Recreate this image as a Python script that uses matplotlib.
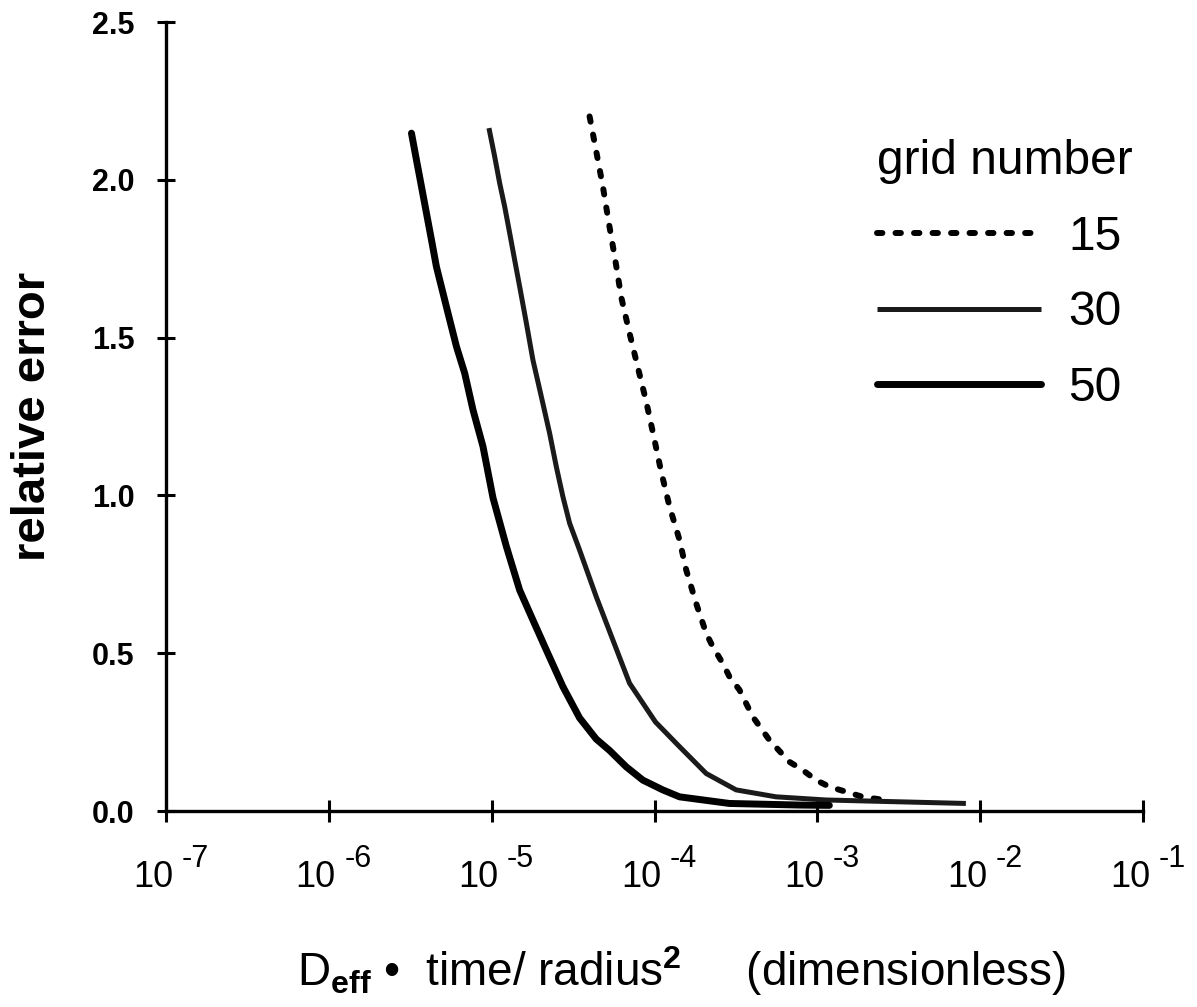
import numpy as np
import matplotlib
matplotlib.use("Agg")
import matplotlib.pyplot as plt

plt.rcParams["font.family"] = ["Liberation Sans", "DejaVu Sans"]
plt.rcParams["mathtext.fontset"] = "custom"
plt.rcParams["mathtext.rm"] = "Liberation Sans"
plt.rcParams["mathtext.bf"] = "Liberation Sans:bold"

# values (x = D_eff*t/r^2, y = relative error)
x_50 = [3.216e-6, 3.451e-6, 3.704e-6, 3.977e-6, 4.267e-6, 4.576e-6, 5.024e-6,
        5.525e-6, 6.074e-6, 6.830e-6, 7.678e-6, 8.843e-6, 1.019e-5, 1.231e-5,
        1.485e-5, 1.792e-5, 2.166e-5, 2.738e-5, 3.466e-5, 4.387e-5, 5.295e-5,
        6.705e-5, 8.477e-5, 1.124e-4, 1.424e-4, 2.884e-4, 7.755e-4, 1.185e-3]
y_50 = [2.148, 2.063, 1.979, 1.894, 1.810, 1.725, 1.641,
        1.556, 1.472, 1.387, 1.271, 1.155, 0.992, 0.838,
        0.700, 0.605, 0.510, 0.394, 0.295, 0.228, 0.192,
        0.140, 0.098, 0.067, 0.045, 0.024, 0.019, 0.018]

x_30 = [9.62e-6, 1.043e-5, 1.119e-5, 1.202e-5, 1.290e-5, 1.384e-5, 1.485e-5,
        1.633e-5, 1.792e-5, 2.018e-5, 2.269e-5, 2.494e-5, 2.738e-5, 3.010e-5,
        3.466e-5, 4.387e-5, 5.549e-5, 7.024e-5, 1.014e-4, 1.424e-4, 2.076e-4,
        3.171e-4, 5.58e-4, 1.131e-3, 8.17e-3]
y_30 = [2.164, 2.074, 1.990, 1.915, 1.831, 1.746, 1.662,
        1.546, 1.429, 1.313, 1.197, 1.091, 0.996, 0.912,
        0.827, 0.679, 0.542, 0.405, 0.282, 0.204, 0.119,
        0.067, 0.045, 0.035, 0.024]

x_15 = [3.992e-5, 4.387e-5, 4.817e-5, 5.243e-5, 5.741e-5, 6.248e-5, 7.024e-5,
        7.898e-5, 8.894e-5, 9.901e-5, 1.099e-4, 1.236e-4, 1.424e-4, 1.565e-4,
        1.802e-4, 2.076e-4, 2.279e-4, 2.624e-4, 2.884e-4, 3.322e-4, 4.009e-4,
        5.075e-4, 6.732e-4, 8.124e-4, 9.817e-4, 1.185e-3, 1.500e-3, 1.896e-3,
        2.576e-3]
y_15 = [2.201, 2.090, 1.979, 1.863, 1.746, 1.628, 1.514,
        1.406, 1.297, 1.186, 1.075, 0.965, 0.859, 0.764,
        0.658, 0.563, 0.521, 0.468, 0.426, 0.384, 0.299,
        0.225, 0.156, 0.130, 0.098, 0.077, 0.061, 0.045,
        0.035]

x_exps = [-7, -6, -5, -4, -3, -2, -1]
y_ticks = [0.0, 0.5, 1.0, 1.5, 2.0, 2.5]
grid_labels = ["15", "30", "50"]

fig = plt.figure(figsize=(11.97, 10.07), dpi=100)
ax = fig.add_axes([0.1387, 0.1946, 0.8162, 0.7835])

ax.plot(x_15, y_15, color="black", lw=4.3, linestyle=(0, (0.9, 2.2)),
        dash_capstyle="round", label=grid_labels[0])
ax.plot(x_30, y_30, color="#1a1a1a", lw=3.6, solid_capstyle="butt",
        label=grid_labels[1])
ax.plot(x_50, y_50, color="black", lw=5.0, solid_capstyle="round",
        label=grid_labels[2])

ax.set_xscale("log")
ax.set_xlim(10.0 ** x_exps[0], 10.0 ** x_exps[-1])
ax.set_ylim(y_ticks[0], y_ticks[-1])

for side in ["top", "right"]:
    ax.spines[side].set_visible(False)
for side in ["left", "bottom"]:
    ax.spines[side].set_linewidth(2.4)

ax.set_xticks([10.0 ** e for e in x_exps])
ax.set_xticklabels([])
ax.xaxis.set_minor_locator(matplotlib.ticker.NullLocator())
ax.tick_params(axis="x", direction="inout", length=16.5, width=2.2)

ax.set_yticks(y_ticks)
ax.set_yticklabels(["%.1f" % v for v in y_ticks], fontweight="bold")
ax.tick_params(axis="y", direction="inout", length=13, width=2.2,
               labelsize=22, pad=16)

# "10" with a raised exponent, like the original typesetting
xtrans = ax.get_xaxis_transform()
for e in x_exps:
    ax.annotate("10", xy=(10.0 ** e, 0), xycoords=xtrans,
                xytext=(5, -55), textcoords="offset points",
                ha="right", va="baseline", fontsize=26, annotation_clip=False)
    ax.annotate("%d" % e, xy=(10.0 ** e, 0), xycoords=xtrans,
                xytext=(11, -40), textcoords="offset points",
                ha="left", va="baseline", fontsize=22, annotation_clip=False)

ax.set_ylabel("relative error", fontsize=34, fontweight="bold")
ax.yaxis.set_label_coords(-0.114, 0.5)

fig.text(0.248, 0.021,
         "D$_\\mathbf{eff}$ \u2022  time/ radius$^\\mathbf{2}$     (dimensionless)",
         fontsize=33, ha="left", va="baseline")

leg = ax.legend(title="grid number", loc="upper left",
                bbox_to_anchor=(0.703, 0.882), frameon=False,
                fontsize=34.5, title_fontsize=34.5, handlelength=3.42,
                handletextpad=0.58, labelspacing=0.64, borderpad=0,
                alignment="left")

fig.savefig("out.png", dpi=100)
